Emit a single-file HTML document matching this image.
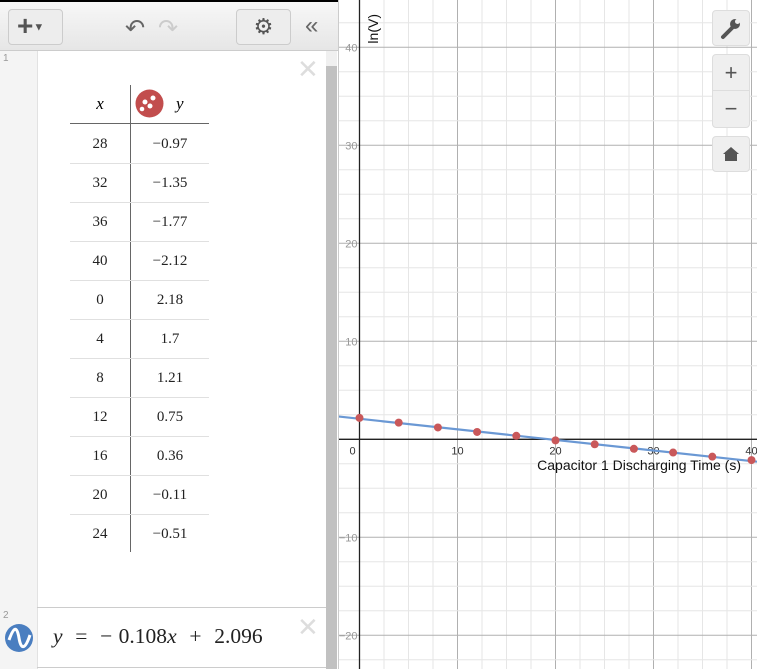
<!DOCTYPE html>
<html><head><meta charset="utf-8"><style>
body{margin:0;width:757px;height:669px;overflow:hidden;background:#fff;font-family:"Liberation Sans",sans-serif;position:relative}
.panel{position:absolute;left:0;top:0;width:338px;height:669px;background:#fff;border-right:1px solid #ccc}
.toolbar{position:absolute;left:0;top:0;width:338px;height:51px;background:linear-gradient(#f7f7f7,#e6e6e6);border-bottom:1px solid #ccc;border-top:2px solid #000;box-sizing:border-box}
.btn{position:absolute;border:1px solid #ccc;border-radius:4px;background:#ededed;box-sizing:border-box}
.gutter{position:absolute;left:0;top:51px;width:37px;height:618px;background:#f4f4f4;border-right:1px solid #e2e2e2}
.gbtn{position:absolute;left:712px;width:38px;background:#efefef;border:1px solid #ddd;border-radius:4px;box-sizing:border-box;color:#555;text-align:center}
</style></head><body>
<svg id="graph" style="position:absolute;left:0;top:0" width="757" height="669"></svg>

<div class="panel">
 <div class="toolbar">
  <div class="btn" style="left:8px;top:7px;width:55px;height:36px;font-size:28px;color:#555;line-height:32px;padding-left:8px;font-weight:bold">+<span style="font-size:11px;vertical-align:middle">▼</span></div>
  <div style="position:absolute;left:125px;top:12px;font-size:24px;color:#666">↶</div>
  <div style="position:absolute;left:158px;top:12px;font-size:24px;color:#ccc">↷</div>
  <div class="btn" style="left:236px;top:7px;width:55px;height:36px;font-size:22px;color:#555;text-align:center;line-height:34px">⚙</div>
  <div style="position:absolute;left:305px;top:10px;font-size:24px;color:#666">«</div>
 </div>
 <div class="gutter"></div>
 <div style="position:absolute;left:3px;top:53px;font-size:10px;color:#999">1</div>
 <div style="position:absolute;left:3px;top:610px;font-size:10px;color:#999">2</div>
 <div style="position:absolute;left:297px;top:54px;font-size:26px;color:#ddd">✕</div>
 <div style="position:absolute;left:297px;top:612px;font-size:26px;color:#ddd">✕</div>
 <div style="position:absolute;left:326px;top:51px;width:11px;height:618px;background:#f0f0f0"><div style="position:absolute;left:0;top:15px;width:11px;height:603px;background:#c1c1c1"></div></div>
 <div style="position:absolute;left:37px;top:607px;width:289px;height:1px;background:#ccc"></div>
 <div style="position:absolute;left:37px;top:667px;width:289px;height:1px;background:#ccc"></div>
 <div id="table"></div>
 <div style="position:absolute;left:5px;top:624px;width:28px;height:28px;border-radius:50%;background:#4a7ec0"><svg width="28" height="28"><path d="M4 16 C9 2,12 2,14 14 S20 26,25 11" stroke="#fff" stroke-width="3" fill="none"/></svg></div>
 <div style="position:absolute;left:53px;top:624px;font-size:21.5px;color:#222;font-family:'Liberation Serif',serif;word-spacing:1px"><i>y</i> &nbsp;= &nbsp;− 0.108<i>x</i> &nbsp;+ &nbsp;2.096</div>
</div>

<div class="gbtn" style="top:10px;height:36px"><svg width="36" height="34"><path d="M10 26 L19 17" stroke="#555" stroke-width="4" stroke-linecap="round"/><circle cx="22" cy="13" r="5" fill="#555"/><circle cx="24.5" cy="10.5" r="2.5" fill="#efefef"/></svg></div>
<div class="gbtn" style="top:54px;height:37px;font-size:22px;line-height:36px;border-bottom-left-radius:0;border-bottom-right-radius:0">+</div>
<div class="gbtn" style="top:90px;height:38px;font-size:22px;line-height:36px;border-top-left-radius:0;border-top-right-radius:0">−</div>
<div class="gbtn" style="top:136px;height:36px"><svg width="36" height="34"><path d="M10 17 L18 10 L26 17 Z M12 17 H24 V24 H12 Z" fill="#555"/></svg></div>

<script>
const xs=[28,32,36,40,0,4,8,12,16,20,24];
const ys=[-0.97,-1.35,-1.77,-2.12,2.18,1.7,1.21,0.75,0.36,-0.11,-0.51];
const slope=-0.108, intercept=2.096;
const xTicks=[0,10,20,30,40];
const yTicks=[40,30,20,10,-10,-20];
const ox=359.5, oy=439.3, k=9.8;
const X=v=>ox+v*k, Y=v=>oy-v*k;
const NS="http://www.w3.org/2000/svg";
const g=document.getElementById('graph');
function el(t,a){const e=document.createElementNS(NS,t);for(const i in a)e.setAttribute(i,a[i]);g.appendChild(e);return e;}
for(let u=-10;u<=50;u+=2.5){
 const major=u%10===0;
 const vx=X(u); if(vx>338&&vx<757){const l=el('line',{x1:vx,x2:vx,y1:0,y2:669,stroke:major?'#b0b0b0':'#e6e6e6','stroke-width':1});
 
 }
}
for(let u=-25;u<=50;u+=2.5){
 const major=u%10===0;
 const hy=Y(u); const l=el('line',{x1:338,x2:757,y1:hy,y2:hy,stroke:major?'#b0b0b0':'#e6e6e6','stroke-width':1});
 
 
}
const xa=el('line',{x1:338,x2:757,y1:oy,y2:oy,stroke:'#222','stroke-width':1.3});


const ya=el('line',{x1:ox,x2:ox,y1:0,y2:669,stroke:'#222','stroke-width':1.3});


xTicks.forEach(t=>{const e=el('text',{x:t===0?ox-7:X(t),y:oy+15,'font-size':11,'text-anchor':'middle',fill:'#333','font-family':'Liberation Sans'});e.textContent=t;
 
 });
yTicks.forEach(t=>{const e=el('text',{x:ox-2,y:Y(t)+4,'font-size':11,'text-anchor':'end',fill:'#999','font-family':'Liberation Sans'});e.textContent=t<0?'−'+(-t):t;
 
 });
const xt=el('text',{x:741,y:470,'font-size':14,'text-anchor':'end',fill:'#111','font-family':'Liberation Sans'});xt.textContent='Capacitor 1 Discharging Time (s)';


const yt=el('text',{x:0,y:0,'font-size':14,'text-anchor':'end',fill:'#111','font-family':'Liberation Sans',transform:`translate(378,14) rotate(-90)`});yt.textContent='ln(V)';


const x0=(338-ox)/k, x1=(757-ox)/k;
const rl=el('line',{x1:X(x0),y1:Y(slope*x0+intercept),x2:X(x1),y2:Y(slope*x1+intercept),stroke:'#6a98d4','stroke-width':2.2});


xs.forEach((x,i)=>{const c=el('circle',{cx:X(x),cy:Y(ys[i]),r:4,fill:'#c9585a'});
 
 });
const tb=document.getElementById('table');
function add(html,css,name,inter){const d=document.createElement('div');d.innerHTML=html;d.style.cssText=css;tb.appendChild(d);
 
 return d;}
add('<i>x</i>','position:absolute;left:70px;top:94px;width:60px;text-align:center;font-size:17px;font-family:Liberation Serif,serif','table-header-x','true');
add('<i>y</i>','position:absolute;left:176px;top:94px;font-size:17px;font-family:Liberation Serif,serif','table-header-y','true');
add('<svg width="29" height="29"><circle cx="14.5" cy="14.5" r="14" fill="#c24d4d"/><circle cx="10" cy="13" r="2.5" fill="#fff"/><circle cx="18" cy="9" r="2.5" fill="#fff"/><circle cx="15" cy="17" r="2.5" fill="#fff"/><circle cx="7" cy="20" r="2.3" fill="#fff"/></svg>','position:absolute;left:135px;top:89px;height:29px','table-series-icon','true');
add('','position:absolute;left:70px;top:123px;width:139px;height:1px;background:#666','table-header-line','false');
add('','position:absolute;left:130px;top:85px;width:1px;height:467px;background:#666','table-column-divider','false');
xs.forEach((x,i)=>{const top=124+i*39;
 add(String(x),`position:absolute;left:70px;top:${top+12}px;width:60px;text-align:center;font-size:15px;font-family:Liberation Serif,serif;color:#222`,'table-x-cell','true');
 add(ys[i]<0?'−'+(-ys[i]):String(ys[i]),`position:absolute;left:131px;top:${top+12}px;width:78px;text-align:center;font-size:15px;font-family:Liberation Serif,serif;color:#222`,'table-y-cell','true');
 if(i<xs.length-1)add('',`position:absolute;left:70px;top:${top+39}px;width:139px;height:1px;background:#e0e0e0`,'table-row-line','false');
});
</script>
</body></html>
